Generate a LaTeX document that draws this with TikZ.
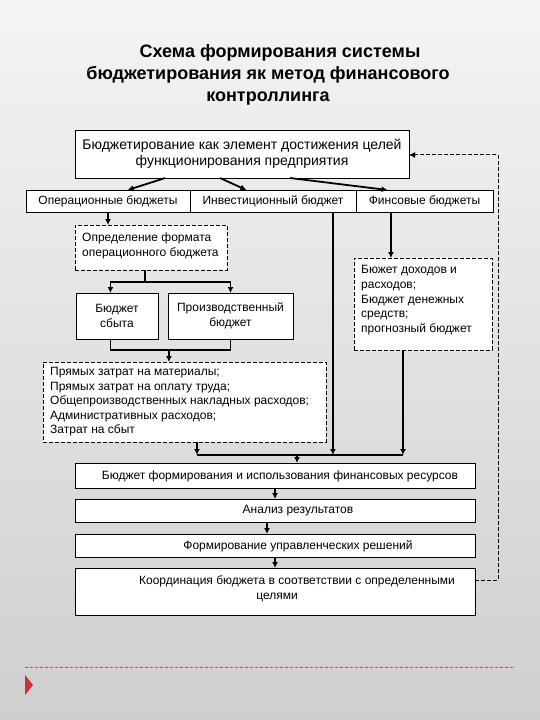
\documentclass[tikz,border=0pt]{standalone}
\usepackage{fontspec}
\setmainfont{Liberation Sans}
\usetikzlibrary{arrows.meta,calc}
\definecolor{bgtop}{RGB}{244,244,244}
\definecolor{bgbot}{RGB}{207,207,207}
\definecolor{decopink}{RGB}{228,190,195}
\definecolor{decored}{RGB}{205,45,55}
\begin{document}
\begin{tikzpicture}[x=1pt,y=-1pt,
  frame/.style={draw=black, line width=1pt, fill=white, anchor=north west, inner sep=0pt, outer sep=0pt,
    font=\fontsize{12}{14.6}\selectfont, align=center},
  dframe/.style={frame, dash pattern=on 4pt off 2pt},
  txt/.style={font=\fontsize{12}{14.6}\selectfont, inner sep=0pt, align=center},
  ltxt/.style={txt, align=left, anchor=north west},
  arr/.style={line width=1.8pt, -{Latex[length=6pt,width=6pt]}},
  ln/.style={line width=1.8pt},
  fb/.style={line width=1pt, dash pattern=on 4pt off 2pt, -{Latex[length=6pt,width=6pt]}}
]
\useasboundingbox (0,0) rectangle (540,720);
\shade[top color=bgtop, bottom color=bgbot] (0,0) rectangle (540,720);

% title
\node[font=\fontsize{18}{22}\selectfont\bfseries, align=center, inner sep=0pt] (title) at (268,75)
  {\hspace*{24pt}Схема формирования системы\\бюджетирования як метод финансового\\контроллинга};

% boxes
\node[frame, minimum width=334pt, minimum height=48pt, font=\fontsize{14}{16}\selectfont] (top) at (75,130)
  {Бюджетирование как элемент достижения целей\\функционирования предприятия};
\node[frame, minimum width=164pt, minimum height=22pt] (ops) at (26,190) {Операционные бюджеты};
\node[frame, minimum width=166pt, minimum height=22pt] (inv) at (190,190) {Инвестиционный бюджет};
\node[frame, minimum width=137pt, minimum height=22pt] (fin) at (356,190) {Финсовые бюджеты};

\node[dframe, minimum width=152pt, minimum height=45pt] (opfmt) at (75,225) {};
\node[ltxt] (opfmtt) at (82,233) {Определение формата\\операционного бюджета};

\node[frame, minimum width=82pt, minimum height=46pt] (sales) at (76,293) {Бюджет\\сбыта};
\node[frame, minimum width=125pt, minimum height=46pt] (prod) at (168,293) {Производственный\\бюджет};

\node[dframe, minimum width=283pt, minimum height=80pt] (costs) at (43,362) {};
\node[ltxt] (costst) at (50,367) {Прямых затрат на материалы;\\Прямых затрат на оплату труда;\\Общепроизводственных накладных расходов;\\Административных расходов;\\Затрат на сбыт};

\node[dframe, minimum width=138pt, minimum height=92pt] (rbox) at (354,258) {};
\node[ltxt] (rboxt) at (361,265.5) {Бюжет доходов и\\расходов;\\Бюджет денежных\\средств;\\прогнозный бюджет};

\node[frame, minimum width=400pt, minimum height=25pt] (fund) at (75,463) {};
\node[txt] (fundt) at (280,476) {Бюджет формирования и использования финансовых ресурсов};
\node[frame, minimum width=400pt, minimum height=23pt] (ana) at (75,499) {};
\node[txt] (anat) at (298,511) {Анализ результатов};
\node[frame, minimum width=400pt, minimum height=23pt] (form) at (75,534) {};
\node[txt] (formt) at (298,546) {Формирование управленческих решений};
\node[frame, minimum width=400pt, minimum height=47pt] (coord) at (75,568) {};
\node[txt] (coordt) at (297,589) {Координация бюджета в соответствии с определенными\\целями\hspace*{40pt}};

% connectors top
\draw[arr] ($(top.south west)!0.27!(top.south east)$) -- ($(ops.north west)!0.62!(ops.north east)$);
\draw[arr] ($(top.south west)!0.434!(top.south east)$) -- ($(inv.north west)!0.34!(inv.north east)$);
\draw[arr] ($(top.south west)!0.644!(top.south east)$) -- ($(fin.north west)!0.23!(fin.north east)$);

\draw[arr] (ops.south) -- (ops.south |- opfmt.north);

% split to sales / prod
\draw[ln] ($(opfmt.south west)!0.46!(opfmt.south east)$) -- ++(0,12) coordinate (s1);
\coordinate (sa) at ($(sales.north west)!0.42!(sales.north east)$);
\draw[ln] (sa |- s1) -- (prod.north |- s1);
\draw[arr] (sa |- s1) -- (sa);
\draw[arr] (prod.north |- s1) -- (prod.north);

% merge to costs
\coordinate (sb) at ($(sales.south west)!0.42!(sales.south east)$);
\draw[ln] (sb) -- ++(0,11) coordinate (s2) -- (s2 -| prod.south) -- (prod.south);
\coordinate (cn) at ($(costs.north west)!0.445!(costs.north east)$);
\draw[arr] (cn |- s2) -- (cn);

% right branch
\coordinate (fs) at ($(fin.south west)!0.255!(fin.south east)$);
\draw[arr] (fs) -- (fs |- rbox.north);

% bus to fund
\coordinate (bus) at ($(fund.north)+(0,-8)$);
\coordinate (cs) at ($(costs.south west)!0.544!(costs.south east)$);
\coordinate (is) at ($(inv.south west)!0.861!(inv.south east)$);
\coordinate (rs) at ($(rbox.south west)!0.355!(rbox.south east)$);
\draw[ln] (cs |- bus) -- (rs |- bus);
\draw[arr] (cs) -- (cs |- bus);
\draw[arr] (is) -- (is |- bus);
\draw[arr] (rs) -- (rs |- bus);
\coordinate (fn) at ($(fund.north west)!0.555!(fund.north east)$);
\draw[arr] (fn |- bus) -- (fn);

% chain
\draw[arr] (fund.south) -- (fund.south |- ana.north);
\coordinate (as) at ($(ana.south west)!0.48!(ana.south east)$);
\draw[arr] (as) -- (as |- form.north);
\draw[arr] (form.south) -- (form.south |- coord.north);

% feedback
\draw[fb] ($(coord.north east)!0.26!(coord.south east)$) -- ++(23,0) |- ($(top.north east)!0.52!(top.south east)$);

% bottom decoration
\draw[line width=1.6pt, decopink] (25,667) -- (515,667);
\draw[line width=0.7pt, black!55, dash pattern=on 3pt off 2pt] (25,667) -- (515,667);
\fill[decored] (25,675) -- (33,685) -- (25,695) -- cycle;
\end{tikzpicture}
\end{document}
